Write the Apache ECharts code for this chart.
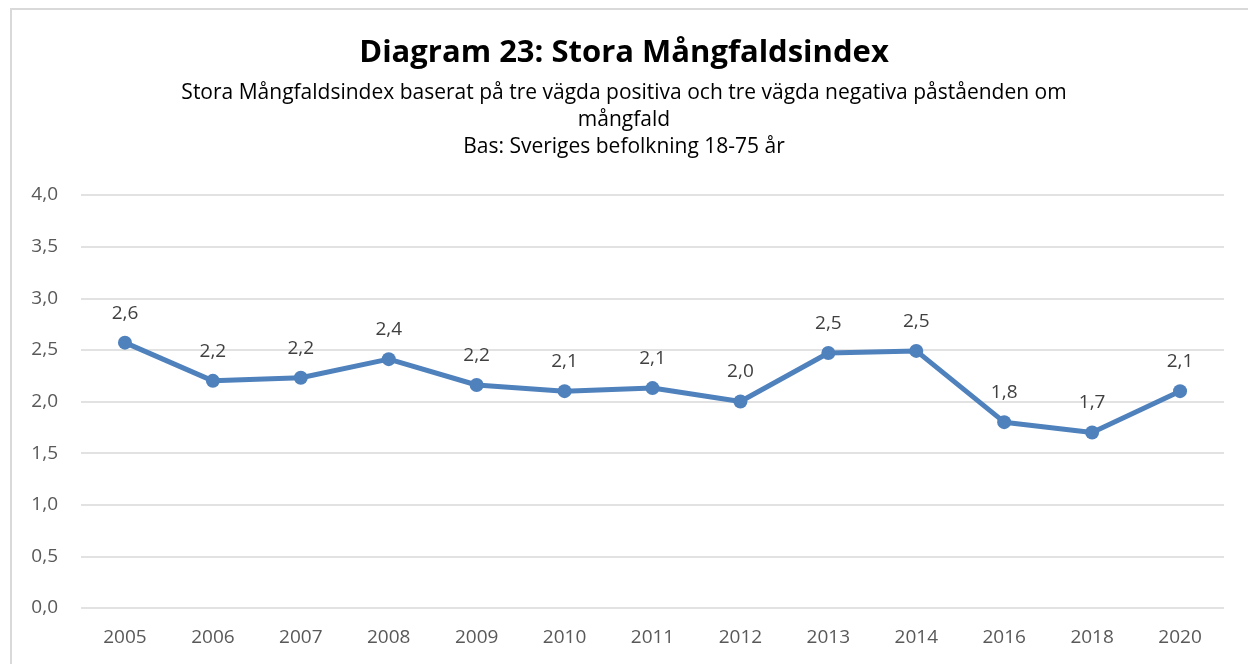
<!DOCTYPE html>
<html>
<head>
<meta charset="utf-8">
<script src="https://cdn.jsdelivr.net/npm/echarts@6/dist/echarts.min.js"></script>
<style>
  html, body { margin: 0; padding: 0; background: #fff; }
  #chart { width: 1248px; height: 664px; }
</style>
</head>
<body>
<div id="chart"></div>
<script>
  const years = ['2005', '2006', '2007', '2008', '2009', '2010', '2011', '2012', '2013', '2014', '2016', '2018', '2020']
  const indexValues = [2.57, 2.2, 2.23, 2.41, 2.16, 2.1, 2.13, 2.0, 2.47, 2.49, 1.8, 1.7, 2.1]
  const yTicks = { min: 0, max: 4, interval: 0.5 }

  const titleText = 'Diagram 23: Stora Mångfaldsindex'
  const subText = 'Stora Mångfaldsindex baserat på tre vägda positiva och tre vägda negativa påståenden om\nmångfald\nBas: Sveriges befolkning 18-75 år'

  const font = '"Open Sans", Lato, sans-serif'
  const comma = v => v.toFixed(1).replace('.', ',')

  const chart = echarts.init(document.getElementById('chart'))
  chart.setOption({
    backgroundColor: '#fff',
    animation: false,
    graphic: [{
      type: 'rect',
      shape: { x: 11, y: 9, width: 1260, height: 700 },
      style: { fill: 'none', stroke: '#d9d9d9', lineWidth: 2 },
      silent: true
    }],
    title: {
      text: titleText,
      subtext: subText,
      left: 'center',
      top: 33,
      itemGap: 11,
      textStyle: {
        fontFamily: font,
        fontSize: 31,
        fontWeight: 'bold',
        color: '#000'
      },
      subtextStyle: {
        fontFamily: font,
        fontSize: 21,
        color: '#000',
        lineHeight: 27
      }
    },
    grid: {
      left: 81,
      right: 24,
      top: 195,
      bottom: 56,
      containLabel: false
    },
    xAxis: {
      type: 'category',
      data: years,
      boundaryGap: true,
      axisLine: { show: false },
      axisTick: { show: false },
      axisLabel: {
        fontFamily: font,
        fontSize: 19,
        color: '#595959',
        margin: 20
      }
    },
    yAxis: {
      type: 'value',
      min: yTicks.min,
      max: yTicks.max,
      interval: yTicks.interval,
      axisLine: { show: false },
      axisTick: { show: false },
      splitLine: { lineStyle: { color: '#d9d9d9', width: 1.5 } },
      axisLabel: {
        fontFamily: font,
        fontSize: 19,
        color: '#595959',
        margin: 23,
        formatter: v => comma(v)
      }
    },
    series: [{
      type: 'line',
      data: indexValues,
      symbol: 'circle',
      symbolSize: 14,
      lineStyle: { color: '#4f81bd', width: 5 },
      itemStyle: { color: '#4f81bd' },
      label: {
        show: true,
        position: 'top',
        distance: 13,
        fontFamily: font,
        fontSize: 19,
        color: '#404040',
        formatter: p => comma(p.value)
      }
    }]
  })
</script>
</body>
</html>
